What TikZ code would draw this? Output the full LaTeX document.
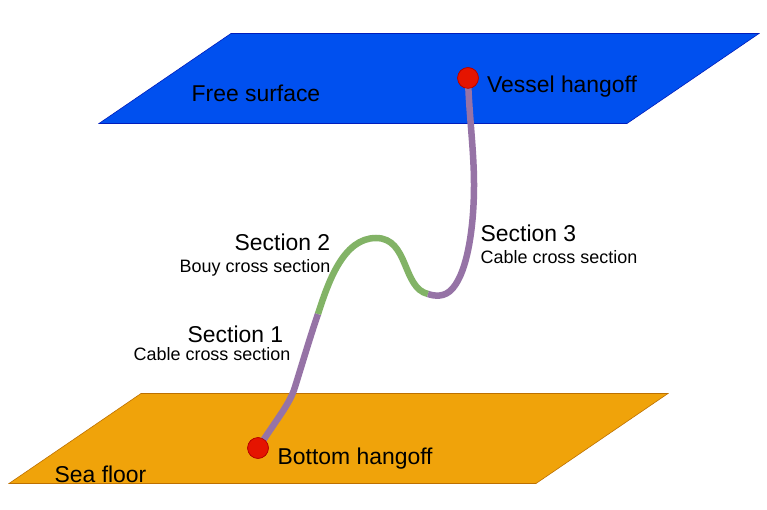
\documentclass[tikz,border=0pt]{standalone}
\usepackage{fontspec}
\setmainfont{Liberation Sans}
\definecolor{surf}{HTML}{0050EF}
\definecolor{surfline}{HTML}{001DBC}
\definecolor{floorc}{HTML}{F0A30A}
\definecolor{floorline}{HTML}{BD7000}
\definecolor{cablec}{HTML}{9673A6}
\definecolor{bouyc}{HTML}{82B366}
\definecolor{dotc}{HTML}{E51400}
\definecolor{dotline}{HTML}{B20000}
\tikzset{
  plane/.style={line width=0.6pt,line join=miter},
  cable/.style={draw=cablec,line width=6.5pt},
  bouy/.style={draw=bouyc,line width=6.5pt},
  hangoff/.style={circle,fill=dotc,draw=dotline,line width=0.6pt,minimum size=20.8pt,inner sep=0pt},
  big/.style={font=\fontsize{22.9}{26}\selectfont,inner sep=0pt,anchor=base west},
  small/.style={font=\fontsize{17.95}{22}\selectfont,inner sep=0pt,anchor=base west},
}
\begin{document}
\begin{tikzpicture}[x=1pt,y=-1pt]
\useasboundingbox (0,0) rectangle (767,510);
\fill[white] (0,0) rectangle (767,510);
\draw[plane,fill=surf,draw=surfline] (99,123.5) -- (231,33.5) -- (759,33.5) -- (627,123.5) -- cycle;
\draw[plane,fill=floorc,draw=floorline] (9,483.5) -- (141,393.5) -- (668,393.5) -- (536,483.5) -- cycle;
\coordinate (b1) at (318,314);
\coordinate (b2) at (428,294);
\node[hangoff] (bot) at (258,448) {};
\node[hangoff] (top) at (468,78) {};
\draw[cable] (bot.center) -- (283,411) .. controls (288,403) and (291,398) .. (294,390) .. controls (301,368) and (310,337) .. (b1);
\draw[bouy] (b1) .. controls (328,283) and (343,238) .. (376,238) .. controls (409,238) and (402,288) .. (b2);
\draw[cable] (b2) .. controls (434,296) and (445,298) .. (453,288) .. controls (468,270) and (474,225) .. (474,185) .. controls (474,150) and (469,115) .. (top.center);
\node[hangoff] at (bot.center) {};
\node[hangoff] at (top.center) {};
\node[big] (fs) at (191.5,102) {Free surface};
\node[big] (vh) at (487,92.5) {Vessel hangoff};
\node[big] (s3) at (480.5,242) {Section 3};
\node[small] (s3c) at (480.5,264) {Cable cross section};
\node[big] (s2) at (234.5,251) {Section 2};
\node[small] (s2c) at (179.5,272.5) {Bouy cross section};
\node[big] (s1) at (187.5,342.5) {Section 1};
\node[small] (s1c) at (133.5,360) {Cable cross section};
\node[big] (bh) at (277.5,464) {Bottom hangoff};
\node[big] (sf) at (54.5,482) {Sea floor};
\end{tikzpicture}
\end{document}
